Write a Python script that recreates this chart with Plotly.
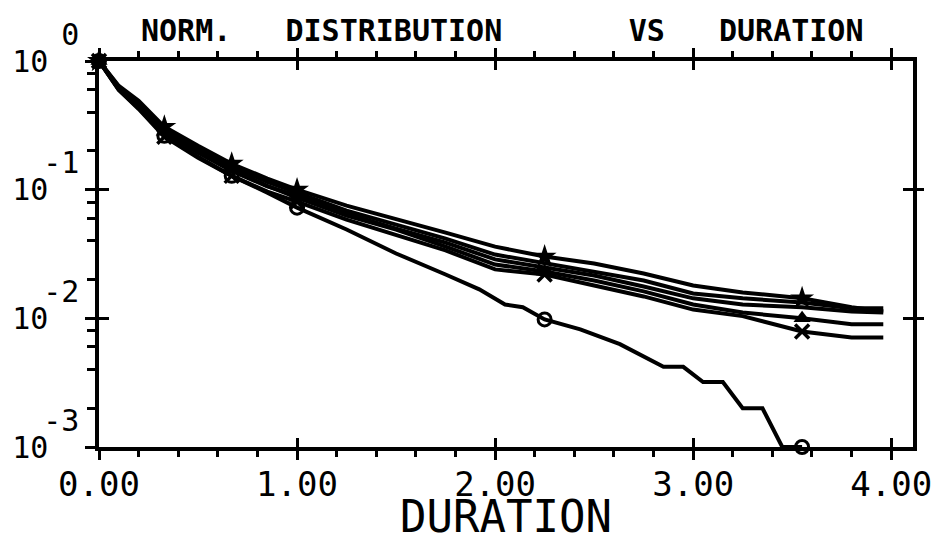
import plotly.graph_objects as go

# duration grid shared by the five upper curves
duration = [0, 0.1, 0.2, 0.33, 0.5, 0.67, 0.85, 1.0, 1.25, 1.5, 1.75, 2.0,
            2.25, 2.5, 2.75, 3.0, 3.25, 3.55, 3.8, 3.96]

curve_star = [1.0, 0.640, 0.490, 0.308, 0.219, 0.159, 0.122, 0.100, 0.0752, 0.0596,
              0.0464, 0.0361, 0.0302, 0.0267, 0.0223, 0.0180, 0.0159, 0.0143, 0.0122, 0.0113]
curve_b = [1.0, 0.629, 0.472, 0.297, 0.208, 0.151, 0.115, 0.0948, 0.0687, 0.0535,
           0.0417, 0.0313, 0.0267, 0.0231, 0.0197, 0.0156, 0.0143, 0.0133, 0.0120, 0.0120]
curve_tri = [1.0, 0.618, 0.456, 0.282, 0.197, 0.143, 0.107, 0.0867, 0.0629, 0.0490,
             0.0361, 0.0262, 0.0231, 0.0197, 0.0162, 0.0128, 0.0111, 0.0100, 0.0090, 0.0090]
curve_d = [1.0, 0.606, 0.448, 0.277, 0.194, 0.140, 0.106, 0.0898, 0.0652, 0.0498,
           0.0388, 0.0287, 0.0248, 0.0215, 0.0177, 0.0143, 0.0128, 0.0122, 0.0113, 0.0111]
curve_x = [1.0, 0.596, 0.424, 0.258, 0.177, 0.128, 0.0965, 0.0807, 0.0585, 0.0440,
           0.0337, 0.0240, 0.0219, 0.0180, 0.0148, 0.0117, 0.0104, 0.0079, 0.0071, 0.0071]

# the circle curve falls off faster and has its own grid
duration_o = [0, 0.1, 0.2, 0.33, 0.5, 0.67, 0.85, 1.0, 1.25, 1.5, 1.75, 1.92, 2.05,
              2.14, 2.25, 2.43, 2.63, 2.75, 2.85, 2.95, 3.05, 3.15, 3.25, 3.35, 3.45, 3.55]
curve_o = [1.0, 0.596, 0.432, 0.262, 0.180, 0.128, 0.0948, 0.0725, 0.0490, 0.0319,
           0.0219, 0.0168, 0.0128, 0.0122, 0.0098, 0.0082, 0.0063, 0.0051, 0.0042,
           0.0042, 0.0032, 0.0032, 0.0020, 0.0020, 0.0010, 0.0010]

# durations where the symbols are plotted
mark_at = [0, 0.33, 0.67, 1.0, 2.25, 3.55]

x_ticks = [0, 1, 2, 3, 4]
x_labels = ['0.00', '1.00', '2.00', '3.00', '4.00']
y_ticks = [1, 0.1, 0.01, 0.001]
y_base = ['10', '10', '10', '10']
y_exp = ['0', '-1', '-2', '-3']
y_minor = [k * 10.0 ** e for e in (-3, -2, -1) for k in (2, 4, 6, 8)]

MONO = 'DejaVu Sans Mono'
INK = 'black'
# the page body keeps its default 8px margin, so the figure is made that much smaller
W, H, PAD = 935, 534, 8

series = [
    (duration, curve_star, 'star', 18, 0),
    (duration, curve_b, None, 0, 0),
    (duration, curve_tri, 'triangle-up', 15, 0),
    (duration, curve_d, None, 0, 0),
    (duration, curve_x, 'x-thin', 14, 3.5),
    (duration_o, curve_o, 'circle-open', 13, 3),
]

fig = go.Figure()
for xs, ys, sym, size, lw in series:
    fig.add_trace(go.Scatter(x=xs, y=ys, mode='lines', line=dict(color=INK, width=4),
                             cliponaxis=False, showlegend=False, hoverinfo='skip'))
    if sym is None:
        continue
    mx = [xv for xv in xs if xv in mark_at]
    my = [yv for xv, yv in zip(xs, ys) if xv in mark_at]
    fig.add_trace(go.Scatter(x=mx, y=my, mode='markers', cliponaxis=False,
                             marker=dict(symbol=sym, size=size, color=INK,
                                         line=dict(color=INK, width=lw)),
                             showlegend=False, hoverinfo='skip'))

# empty traces so the overlay axes (crossing ticks, exponents) get drawn
for xa, ya in [('x2', 'y'), ('x', 'y2'), ('x', 'y3')]:
    fig.add_trace(go.Scatter(x=[], y=[], xaxis=xa, yaxis=ya, showlegend=False,
                             hoverinfo='skip'))

title = ('NORM.' + '&nbsp;' * 3 + 'DISTRIBUTION' + '&nbsp;' * 7 + 'VS'
         + '&nbsp;' * 3 + 'DURATION')

fig.update_layout(
    width=W, height=H,
    margin=dict(l=99 - PAD, r=30, t=61 - PAD, b=95),
    paper_bgcolor='white', plot_bgcolor='white',
    title=dict(text=title, x=(141 - PAD) / W, xanchor='left', xref='container',
               y=1 - (30 - PAD) / H, yanchor='middle', yref='container',
               font=dict(family=MONO, size=30, color=INK, weight='bold')),
    # main x axis: outside ticks (mirrored on top) and the axis title
    xaxis=dict(range=[0, 4.11], showgrid=False, zeroline=False, automargin=False,
               showline=True, linewidth=3.5, linecolor=INK, mirror='ticks',
               ticks='outside', ticklen=9, tickwidth=3, tickcolor=INK,
               tickvals=x_ticks, showticklabels=False,
               minor=dict(tickmode='linear', tick0=0, dtick=0.2, ticks='outside',
                          ticklen=6, tickwidth=2.5, tickcolor=INK, showgrid=False),
               title=dict(text='DURATION', standoff=50,
                          font=dict(family=MONO, size=44, color=INK))),
    # overlay: inside half of the crossing major ticks, plus the tick labels
    xaxis2=dict(overlaying='x', anchor='y', side='bottom', range=[0, 4.11],
                showgrid=False, zeroline=False, automargin=False, showline=True,
                linewidth=3.5, linecolor=INK, mirror='ticks', ticks='inside', ticklen=9,
                tickwidth=3, tickcolor=INK, tickvals=x_ticks, ticktext=x_labels,
                ticklabelstandoff=4, tickfont=dict(family=MONO, size=34, color=INK)),
    yaxis=dict(type='log', range=[-3, 0], showgrid=False, zeroline=False,
               automargin=False, showline=True, linewidth=3.5, linecolor=INK, mirror=True,
               ticks='outside', ticklen=10, tickwidth=3, tickcolor=INK,
               tickvals=y_ticks, ticktext=y_base, ticklabelstandoff=31,
               tickfont=dict(family=MONO, size=30, color=INK),
               minor=dict(tickmode='array', tickvals=y_minor, ticks='outside',
                          ticklen=8, tickwidth=2.5, tickcolor=INK, showgrid=False)),
    # overlay: exponents above the "10", inside half of the crossing ticks
    yaxis2=dict(type='log', range=[-3, 0], overlaying='y', anchor='x', side='left',
                showgrid=False, zeroline=False, automargin=False, showline=True,
                linewidth=3.5, linecolor=INK, mirror='ticks', ticks='inside', ticklen=10,
                tickwidth=3, tickcolor=INK, tickvals=y_ticks, ticktext=y_exp,
                ticklabelshift=-27, ticklabelstandoff=10,
                tickfont=dict(family=MONO, size=30, color=INK)),
    yaxis3=dict(type='log', range=[-3, 0], overlaying='y', anchor='x', side='right',
                showgrid=False, zeroline=False, automargin=False, showline=False,
                ticks='outside', ticklen=10, tickwidth=3, tickcolor=INK,
                tickvals=[0.1, 0.01], showticklabels=False),
)

fig.write_html("out.html")
